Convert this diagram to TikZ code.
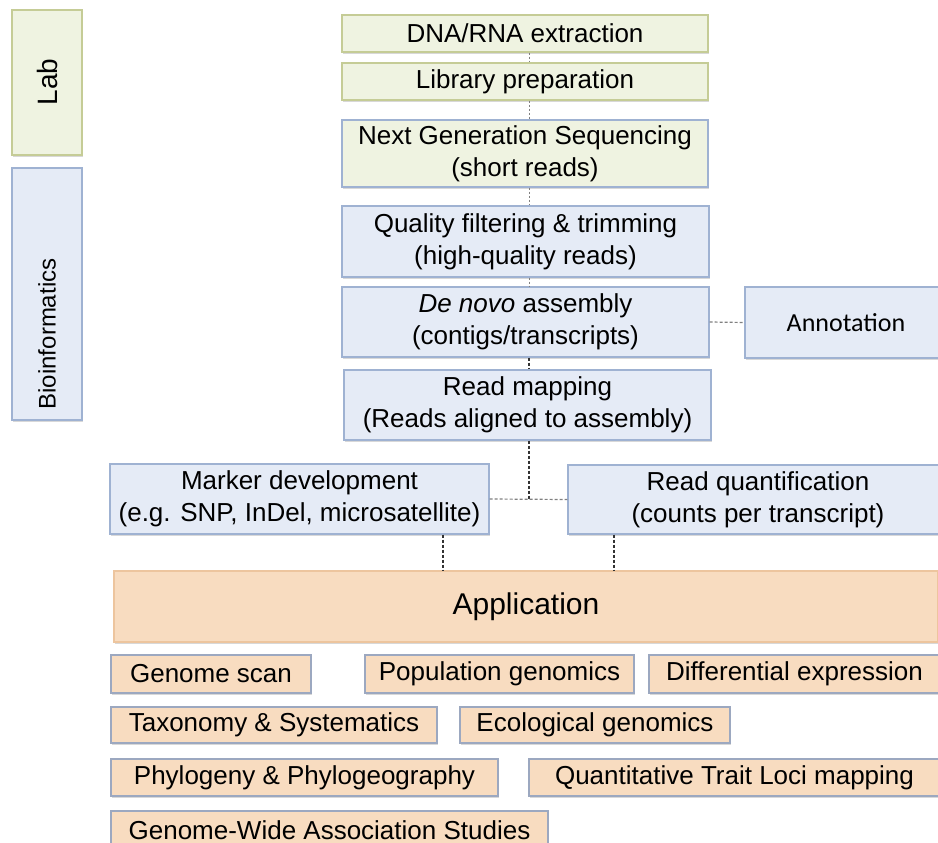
\documentclass[tikz,border=0pt]{standalone}
\usepackage{fontspec}
\setmainfont{Liberation Sans}
\newfontfamily\calfont{Carlito}
\usetikzlibrary{shadows}
\definecolor{grfill}{HTML}{EFF3E1}
\definecolor{grline}{HTML}{C5CC96}
\definecolor{blfill}{HTML}{E5EBF6}
\definecolor{blline}{HTML}{9FB2D2}
\definecolor{orfill}{HTML}{F8DCC0}
\definecolor{orline}{HTML}{EDC59E}
\definecolor{smline}{HTML}{9CA8C0}
\definecolor{conn}{HTML}{333333}
\begin{document}
\begin{tikzpicture}[x=1pt,y=-1pt,
  base/.style={rectangle, inner sep=0pt, align=center,
    font=\fontsize{26}{32}\selectfont, line width=1.2pt,
    drop shadow={shadow xshift=1pt, shadow yshift=-2pt, opacity=0.3}},
  sz/.style 2 args={minimum width=#1pt, minimum height=#2pt},
  greenbox/.style={base, draw=grline, fill=grfill},
  ngsbox/.style={base, draw=blline, fill=grfill},
  bluebox/.style={base, draw=blline, fill=blfill},
  appbox/.style={base, draw=orline, fill=orfill},
  smallbox/.style={base, draw=smline, fill=orfill},
  lightconn/.style={draw=gray, line width=1pt, dash pattern=on 2pt off 2pt},
  darkconn/.style={draw=conn, line width=1.5pt, dash pattern=on 3pt off 2pt},
  sideconn/.style={draw=gray, line width=1.2pt, dash pattern=on 3pt off 2pt}
]
\clip (0,0) rectangle (938,843);
\fill[white] (0,0) rectangle (938,843);

% side labels
\node[greenbox, sz={70}{145}] (lab) at (47,82.5) {};
\node[rotate=90, font=\fontsize{28}{32}\selectfont] (labtext) at (47,82) {Lab};
\node[bluebox, sz={70}{252}] (bio) at (47,294) {};
\node[rotate=90, font=\fontsize{24}{30}\selectfont] (biotext) at (47,334) {Bioinformatics};

% main column
\node[greenbox, sz={366}{37}] (dna) at (525,33.5) {DNA/RNA extraction};
\node[greenbox, sz={366}{37}] (lib) at (525,81.5) {Library preparation};
\node[ngsbox, sz={366}{67}] (ngs) at (525,153.5) {Next Generation Sequencing\\(short reads)};
\node[bluebox, sz={367}{71}] (qf) at (525.5,241.5) {Quality filtering \& trimming\\(high-quality reads)};
\node[bluebox, sz={367}{70}] (dn) at (525.5,322) {\textit{De novo} assembly\\(contigs/transcripts)};
\node[bluebox, sz={202}{71}, font=\calfont\fontsize{26}{32}\selectfont] (ann) at (846,322.5) {Annotation};
\node[bluebox, sz={367}{70}] (rm) at (527.5,405) {Read mapping\\(Reads aligned to assembly)};
\node[bluebox, sz={379}{70}] (mk) at (299.5,499) {Marker development\\(e.g. SNP, InDel, microsatellite)};
\node[bluebox, sz={380}{69}] (rq) at (758,499.5) {Read quantification\\(counts per transcript)};
\node[appbox, sz={824}{71}, font=\fontsize{30}{36}\selectfont] (app) at (526,606.5) {Application};

% applications
\node[smallbox, sz={200}{38}] (gs) at (211,674) {Genome scan};
\node[smallbox, sz={269}{38}] (pg) at (499.5,674) {Population genomics};
\node[smallbox, sz={291}{38}] (de) at (794.5,674) {Differential expression};
\node[smallbox, sz={326}{36}] (tx) at (274,725) {Taxonomy \& Systematics};
\node[smallbox, sz={270}{36}] (eg) at (595,725) {Ecological genomics};
\node[smallbox, sz={387}{37}] (ph) at (304.5,777.5) {Phylogeny \& Phylogeography};
\node[smallbox, sz={411}{37}] (qtl) at (734.5,777.5) {Quantitative Trait Loci mapping};
\node[smallbox, sz={437}{38}] (gw) at (329.5,830) {Genome-Wide Association Studies};

% connector guide coordinates
\coordinate (spine) at (529,0);
\coordinate (mkx) at (443,0);
\coordinate (rqx) at (614,0);

\draw[lightconn] (dna.south -| spine) -- (lib.north -| spine);
\draw[lightconn] (lib.south -| spine) -- (ngs.north -| spine);
\draw[lightconn] (ngs.south -| spine) -- (qf.north -| spine);
\draw[lightconn] (qf.south -| spine) -- (dn.north -| spine);
\draw[darkconn] (dn.south -| spine) -- (rm.north -| spine);
\draw[sideconn] (dn.east) -- (ann.west);
\draw[darkconn] (rm.south -| spine) -- (mk.east -| spine);
\draw[sideconn] (mk.east) -- (rq.west);
\draw[darkconn] (mk.south -| mkx) -- (app.north -| mkx);
\draw[darkconn] (rq.south -| rqx) -- (app.north -| rqx);
\end{tikzpicture}
\end{document}
